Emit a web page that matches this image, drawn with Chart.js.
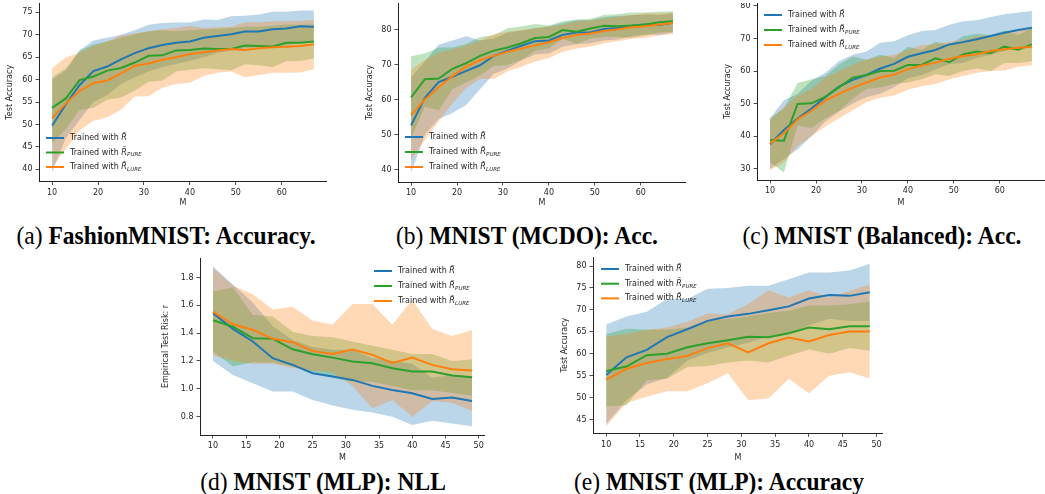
<!DOCTYPE html>
<html>
<head>
<meta charset="utf-8">
<script src="https://cdn.jsdelivr.net/npm/chart.js@4.4.1/dist/chart.umd.min.js"></script>
<style>
  body { margin: 0; background: #fff; width: 1045px; height: 494px; position: relative; overflow: hidden; }
  canvas { position: absolute; }
  .cap { position: absolute; font-family: "Liberation Serif", "Times New Roman", serif; font-size: 25px;
         line-height: 1; white-space: nowrap; color: #000; transform: translateX(-50%) scaleX(0.94); }
</style>
</head>
<body>
<div class="cap" style="left:166px;top:223px">(a) <b>FashionMNIST: Accuracy.</b></div>
<div class="cap" style="left:527px;top:223px">(b) <b>MNIST (MCDO): Acc.</b></div>
<div class="cap" style="left:882px;top:223px">(c) <b>MNIST (Balanced): Acc.</b></div>
<div class="cap" style="left:323px;top:469px">(d) <b>MNIST (MLP): NLL</b></div>
<div class="cap" style="left:719px;top:469px">(e) <b>MNIST (MLP): Accuracy</b></div>
<script>
// x values (M)
const mLong = [10, 13, 16, 19, 22, 25, 28, 31, 34, 37, 40, 43, 46, 49, 52, 55, 58, 61, 64, 67];
const mShort = [10, 13, 16, 19, 22, 25, 28, 31, 34, 37, 40, 43, 46, 49];

// tick labels
const xTicksLong = [10, 20, 30, 40, 50, 60];
const xTicksShort = [10, 15, 20, 25, 30, 35, 40, 45, 50];
const yTicksA = [40, 45, 50, 55, 60, 65, 70, 75];
const yTicksB = [40, 50, 60, 70, 80];
const yTicksC = [30, 40, 50, 60, 70, 80];
const yTicksD = [0.8, 1.0, 1.2, 1.4, 1.6, 1.8];
const yTicksE = [45, 50, 55, 60, 65, 70, 75, 80];

// (a) FashionMNIST accuracy
const aBlue     = [49.7, 54.5, 58.8, 61.9, 62.9, 64.5, 65.9, 67.0, 67.7, 68.2, 68.5, 69.3, 69.7, 70.1, 70.7, 70.7, 71.2, 71.4, 71.9, 71.8];
const aBlueLo   = [39.3, 47, 51, 55, 56.5, 59, 60.5, 61.8, 62.8, 63.5, 64.2, 65, 66, 66.5, 67, 67.2, 67.4, 67.6, 68.2, 68.4];
const aBlueHi   = [60, 62, 66.5, 68.7, 69.3, 70, 71, 72.2, 72.6, 72.7, 72.7, 73.4, 73.3, 74.1, 74.2, 74.5, 75.1, 75.1, 75.4, 75.4];
const aGreen    = [53.7, 55.8, 59.9, 60.7, 62.0, 62.6, 63.8, 65.3, 65.4, 66.5, 66.6, 66.9, 66.8, 66.8, 67.6, 67.5, 67.4, 68.2, 68.2, 68.5];
const aGreenLo  = [45.8, 49, 53.2, 53.7, 55.5, 56, 57.5, 59.5, 59.8, 61.8, 62.2, 62.5, 62.3, 62.1, 63.4, 63.2, 62.8, 64.1, 64.2, 64.7];
const aGreenHi  = [60.5, 62.5, 66.5, 67.8, 68.5, 69.3, 70.1, 70.8, 71, 70.8, 71, 71.2, 71.3, 71.5, 71.8, 71.8, 72, 72.3, 72.2, 72.3];
const aOrange   = [51.4, 54.7, 57.5, 59.2, 59.8, 61.4, 63.1, 63.6, 64.4, 65.0, 65.7, 66.1, 66.5, 66.8, 66.6, 67.0, 67.2, 67.3, 67.5, 67.9];
const aOrangeLo = [40.5, 44.5, 48.7, 50.8, 51.6, 53.3, 56.2, 56.3, 58.2, 59, 59.3, 60.8, 61.5, 61.8, 60.5, 61, 61.5, 61.5, 61.6, 62.3];
const aOrangeHi = [62.5, 65, 66, 67.5, 68.5, 69.8, 70.3, 70.8, 71.2, 71.5, 72, 71.5, 71.7, 71.8, 72.8, 72.8, 73, 73, 73.1, 73.3];

// (b) MNIST (MCDO)
const bBlue     = [52.7, 60.6, 65.1, 66.6, 68.3, 69.9, 72.6, 74.1, 75.5, 76.8, 77.0, 78.6, 79.3, 79.3, 80.3, 80.6, 81.2, 81.6, 81.4, 82.1];
const bBlueLo   = [39.2, 50, 54.5, 56.2, 58.5, 63, 67.5, 69, 71.3, 73, 73.3, 75.2, 75.9, 76.2, 77, 77.3, 78.2, 78.8, 78.6, 79.3];
const bBlueHi   = [66.5, 71, 75.8, 77, 78.2, 77, 77.5, 79.2, 79.8, 80.5, 81, 82, 82.8, 82.8, 83.7, 84, 84.2, 84.4, 84.3, 84.8];
const bGreen    = [60.7, 65.9, 66.1, 68.9, 70.5, 72.6, 74.1, 75.0, 76.2, 77.7, 78.0, 80.0, 79.5, 80.4, 81.2, 81.1, 81.3, 81.6, 82.2, 82.5];
const bGreenLo  = [49, 58, 57, 63, 65, 67, 69.7, 70, 71.5, 74, 74.8, 77.5, 76, 77.6, 78, 78, 77.8, 78.4, 79.3, 79.5];
const bGreenHi  = [72.5, 73.3, 75, 75, 76, 78, 78.5, 80.5, 81, 81.7, 81.3, 82.5, 83, 83.2, 84.3, 84.5, 85, 85, 85.2, 85.4];
const bOrange   = [55.7, 60.1, 63.6, 66.8, 69.5, 71.4, 72.6, 73.8, 74.7, 75.6, 76.5, 77.7, 78.6, 79.0, 79.7, 80.2, 80.8, 81.1, 81.6, 82.0];
const bOrangeLo = [42.8, 48.5, 53.8, 59, 63.5, 66, 66, 68.2, 69.5, 71, 72, 73.8, 74.7, 75.2, 76.2, 76.8, 77.5, 77.8, 78.5, 78.8];
const bOrangeHi = [68.5, 71.5, 73.5, 74.5, 75.5, 77, 78.8, 79.5, 80, 80.5, 81, 81.5, 82.5, 82.8, 83.2, 83.8, 84.3, 84.8, 84.7, 85];

// (c) MNIST (Balanced)
const cBlue     = [37.5, 41.9, 45.4, 48.5, 52.0, 55.2, 57.3, 58.8, 60.8, 62.2, 64.4, 65.5, 66.5, 68.2, 68.9, 69.8, 70.8, 71.8, 72.6, 73.3];
const cBlueLo   = [30, 33, 36, 40, 44.5, 47.5, 50, 52, 53, 55, 57.8, 58.8, 60.5, 62.2, 62.5, 64, 65, 66.2, 67.2, 68];
const cBlueHi   = [45.5, 51, 53, 57, 59.5, 63, 65, 66, 68.7, 69.2, 71, 72.3, 72.6, 74.2, 75.3, 75.6, 76.6, 77.5, 78, 78.5];
const cGreen    = [38.8, 38.6, 49.9, 50.1, 52.1, 55.0, 58.0, 58.8, 60.0, 60.1, 61.9, 61.9, 63.9, 62.7, 65.1, 66.0, 65.5, 67.5, 66.6, 68.2];
const cGreenLo  = [32, 28.8, 43.3, 42.5, 45.5, 47.8, 51.5, 54.5, 55, 56, 56.5, 57.5, 59, 58.5, 60, 60.8, 60, 62.5, 62.5, 63];
const cGreenHi  = [45.5, 48.5, 56.3, 57.5, 58.5, 62, 64.5, 63.5, 65, 64, 67.5, 66.5, 69, 68, 70.7, 71.5, 71, 72.5, 71, 73.3];
const cOrange   = [37.8, 40.9, 45.2, 47.8, 50.9, 53.0, 54.9, 56.5, 58.1, 58.9, 60.6, 61.7, 62.6, 63.7, 64.6, 65.2, 66.2, 66.7, 67.2, 67.5];
const cOrangeLo = [29.5, 32, 37, 40, 43, 45.5, 48, 50.5, 51.8, 52.5, 54.3, 55.3, 56, 57.5, 58.5, 59.5, 60, 60.2, 61.3, 61.8];
const cOrangeHi = [45, 49, 52.5, 54.5, 58, 60, 62, 63.5, 64.5, 65, 66.5, 68, 68.3, 69, 69.5, 70.7, 71, 72, 72.5, 73];

// (d) MNIST (MLP) NLL
const dBlue     = [1.543, 1.431, 1.340, 1.220, 1.172, 1.112, 1.088, 1.064, 1.021, 0.992, 0.968, 0.927, 0.937, 0.913];
const dBlueLo   = [1.20, 1.10, 1.04, 0.98, 0.98, 0.92, 0.88, 0.85, 0.83, 0.80, 0.74, 0.77, 0.75, 0.73];
const dBlueHi   = [1.88, 1.75, 1.62, 1.45, 1.35, 1.30, 1.28, 1.28, 1.22, 1.20, 1.18, 1.08, 1.10, 1.09];
const dGreen    = [1.493, 1.447, 1.364, 1.359, 1.284, 1.248, 1.224, 1.196, 1.184, 1.148, 1.124, 1.124, 1.095, 1.083];
const dGreenLo  = [1.27, 1.16, 1.19, 1.19, 1.16, 1.12, 1.08, 1.05, 1.05, 1.02, 0.99, 0.99, 0.97, 0.95];
const dGreenHi  = [1.70, 1.73, 1.53, 1.52, 1.41, 1.38, 1.37, 1.34, 1.31, 1.28, 1.25, 1.25, 1.20, 1.21];
const dOrange   = [1.555, 1.464, 1.424, 1.359, 1.335, 1.272, 1.251, 1.282, 1.244, 1.186, 1.224, 1.172, 1.141, 1.131];
const dOrangeLo = [1.24, 1.20, 1.18, 1.18, 1.15, 1.13, 1.12, 1.02, 0.86, 0.92, 0.80, 0.91, 0.90, 0.84];
const dOrangeHi = [1.87, 1.74, 1.68, 1.57, 1.59, 1.49, 1.46, 1.61, 1.61, 1.46, 1.64, 1.43, 1.38, 1.42];

// (e) MNIST (MLP) accuracy
const eBlue     = [55.2, 59.2, 60.9, 63.8, 65.6, 67.5, 68.5, 69.1, 69.9, 70.8, 72.6, 73.4, 73.2, 74.0];
const eBlueLo   = [44, 49.5, 53, 54.5, 58.5, 60.2, 61.5, 62.5, 64, 64.5, 66.5, 68, 67.5, 67.5];
const eBlueHi   = [66.7, 68.5, 69.6, 72.5, 72.5, 74.8, 75, 75.5, 75.5, 77, 78.5, 78.5, 79, 80.5];
const eGreen    = [56.1, 57.1, 59.7, 60.0, 61.5, 62.4, 63.1, 63.9, 63.8, 64.7, 66.0, 65.6, 66.3, 66.3];
const eGreenLo  = [48, 48.3, 54, 54.3, 57, 57.2, 58, 58.5, 58, 59.6, 61, 60, 61.3, 60.7];
const eGreenHi  = [64.5, 65.7, 65.5, 65.5, 66, 67.5, 68, 68.5, 69.3, 69.8, 71, 71, 71.3, 72];
const eOrange   = [54.1, 56.6, 57.9, 58.8, 59.5, 61.3, 62.4, 60.3, 62.4, 63.7, 62.8, 64.3, 65.1, 65.1];
const eOrangeLo = [43.5, 48.8, 50.2, 51.5, 51.5, 53.3, 55.6, 49.5, 49.8, 54.3, 51, 55, 55.8, 54.4];
const eOrangeHi = [64, 64.5, 65.5, 66, 67.3, 69.2, 69, 71.3, 74.5, 72.8, 74.5, 72.8, 74.3, 75.8];

const BLUE = '#1f77b4', GREEN = '#2ca02c', ORANGE = '#ff7f0e';
const BLUE_F = 'rgba(31,119,180,0.3)', GREEN_F = 'rgba(44,160,44,0.3)', ORANGE_F = 'rgba(255,127,14,0.3)';
const INK = '#262626';
const FONT = { family: 'DejaVu Sans', size: 8 };

// legend with the tilde R and subscripts, drawn on the canvas
const texLegend = {
  id: 'texLegend',
  afterDraw(chart, args, o) {
    if (!o.items) return;
    const ctx = chart.ctx;
    ctx.save();
    o.items.forEach((it, i) => {
      const y = o.y + i * o.dy;
      ctx.strokeStyle = it.color;
      ctx.lineWidth = 2;
      ctx.beginPath();
      ctx.moveTo(o.x, y);
      ctx.lineTo(o.x + 18, y);
      ctx.stroke();
      ctx.fillStyle = INK;
      ctx.textBaseline = 'middle';
      ctx.font = '8px "DejaVu Sans"';
      let tx = o.x + 24;
      ctx.fillText('Trained with ', tx, y);
      tx += ctx.measureText('Trained with ').width;
      ctx.font = 'italic 8px "DejaVu Sans"';
      ctx.fillText('R\u0303', tx, y);
      tx += ctx.measureText('R').width;
      if (it.sub) {
        ctx.font = 'italic 5.5px "DejaVu Sans"';
        ctx.fillText(it.sub, tx + 0.3, y + 2.5);
      }
    });
    ctx.restore();
  }
};

const pts = (xs, ys) => xs.map((x, i) => ({ x: x, y: ys[i] }));

function panel(p) {
  const left = Math.round(p.titleX - 5);
  const top = Math.round(p.plotTop);
  const w = Math.round(p.plotRight - left);
  const h = Math.round(p.mY + 4.8 - top);
  const yW = p.plotLeft - left;
  const xH = h - (p.plotBottom - top);

  const cv = document.createElement('canvas');
  cv.width = w; cv.height = h;
  cv.style.left = left + 'px';
  cv.style.top = top + 'px';
  document.body.appendChild(cv);

  const line = (d, c) => ({ data: pts(p.m, d), borderColor: c, borderWidth: 2, pointRadius: 0, fill: false, tension: 0 });
  const band = (d, c, f) => ({ data: pts(p.m, d), borderColor: 'transparent', borderWidth: 0, backgroundColor: c, pointRadius: 0, fill: f, tension: 0 });

  const axis = {
    grid: { drawOnChartArea: false, color: '#222', tickLength: 3.5, lineWidth: 0.8 },
    border: { color: '#222', width: 1 },
    ticks: { color: INK, font: FONT, padding: 3, autoSkip: false, maxRotation: 0 }
  };

  new Chart(cv, {
    type: 'line',
    data: {
      datasets: [
        line(p.orange, ORANGE),
        line(p.green, GREEN),
        line(p.blue, BLUE),
        band(p.orangeHi, ORANGE_F, '+1'),
        band(p.orangeLo, ORANGE_F, false),
        band(p.greenHi, GREEN_F, '+1'),
        band(p.greenLo, GREEN_F, false),
        band(p.blueHi, BLUE_F, '+1'),
        band(p.blueLo, BLUE_F, false)
      ]
    },
    options: {
      responsive: false,
      animation: false,
      devicePixelRatio: 1,
      layout: { padding: 0 },
      plugins: {
        legend: { display: false },
        tooltip: { enabled: false },
        filler: { drawTime: 'beforeDatasetsDraw' },
        texLegend: {
          x: p.legX - left, y: p.legY - top, dy: p.legDy,
          items: [
            { color: BLUE, sub: '' },
            { color: GREEN, sub: 'PURE' },
            { color: ORANGE, sub: 'LURE' }
          ]
        }
      },
      scales: {
        x: Object.assign({}, axis, {
          type: 'linear', min: p.xMin, max: p.xMax,
          afterBuildTicks: s => { s.ticks = p.xTicks.map(v => ({ value: v })); },
          afterFit: s => { s.height = xH; s.paddingLeft = 0; s.paddingRight = 0; },
          title: { display: true, text: 'M', color: INK, font: FONT, padding: 0 }
        }),
        y: Object.assign({}, axis, {
          type: 'linear', min: p.yMin, max: p.yMax,
          afterBuildTicks: s => { s.ticks = p.yTicks.map(v => ({ value: v })); },
          afterFit: s => { s.width = yW; s.paddingTop = 0; s.paddingBottom = 0; },
          ticks: Object.assign({}, axis.ticks, { callback: p.fmt || (v => v) }),
          title: { display: true, text: p.yTitle, color: INK, font: FONT, padding: 0 }
        })
      }
    },
    plugins: [texLegend]
  });
}

panel({
  m: mLong, xMin: 7.15, xMax: 69.85, xTicks: xTicksLong,
  yMin: 37.28, yMax: 77.07, yTicks: yTicksA, yTitle: 'Test Accuracy',
  titleX: 10, plotLeft: 39, plotRight: 327, plotTop: 3, plotBottom: 181.5, mY: 203,
  legX: 46, legY: 138, legDy: 14.5,
  blue: aBlue, blueLo: aBlueLo, blueHi: aBlueHi,
  green: aGreen, greenLo: aGreenLo, greenHi: aGreenHi,
  orange: aOrange, orangeLo: aOrangeLo, orangeHi: aOrangeHi
});

panel({
  m: mLong, xMin: 7.15, xMax: 69.85, xTicks: xTicksLong,
  yMin: 36.48, yMax: 87.73, yTicks: yTicksB, yTitle: 'Test Accuracy',
  titleX: 370, plotLeft: 398, plotRight: 686, plotTop: 3, plotBottom: 182, mY: 203,
  legX: 405, legY: 137, legDy: 15,
  blue: bBlue, blueLo: bBlueLo, blueHi: bBlueHi,
  green: bGreen, greenLo: bGreenLo, greenHi: bGreenHi,
  orange: bOrange, orangeLo: bOrangeLo, orangeHi: bOrangeHi
});

panel({
  m: mLong, xMin: 7.15, xMax: 69.85, xTicks: xTicksLong,
  yMin: 26.53, yMax: 80.92, yTicks: yTicksC, yTitle: 'Test Accuracy',
  titleX: 728, plotLeft: 757, plotRight: 1045, plotTop: 3, plotBottom: 180, mY: 203,
  legX: 764, legY: 15, legDy: 15,
  blue: cBlue, blueLo: cBlueLo, blueHi: cBlueHi,
  green: cGreen, greenLo: cGreenLo, greenHi: cGreenHi,
  orange: cOrange, orangeLo: cOrangeLo, orangeHi: cOrangeHi
});

panel({
  m: mShort, xMin: 8.05, xMax: 50.95, xTicks: xTicksShort,
  yMin: 0.668, yMax: 1.94, yTicks: yTicksD, yTitle: 'Empirical Test Risk: r',
  fmt: v => v.toFixed(1),
  titleX: 166, plotLeft: 200, plotRight: 485, plotTop: 258, plotBottom: 435, mY: 458,
  legX: 374, legY: 271, legDy: 15,
  blue: dBlue, blueLo: dBlueLo, blueHi: dBlueHi,
  green: dGreen, greenLo: dGreenLo, greenHi: dGreenHi,
  orange: dOrange, orangeLo: dOrangeLo, orangeHi: dOrangeHi
});

panel({
  m: mShort, xMin: 8.05, xMax: 50.95, xTicks: xTicksShort,
  yMin: 41.9, yMax: 82.05, yTicks: yTicksE, yTitle: 'Test Accuracy',
  titleX: 565, plotLeft: 593, plotRight: 883, plotTop: 257, plotBottom: 433.3, mY: 458,
  legX: 601, legY: 269, legDy: 14.7,
  blue: eBlue, blueLo: eBlueLo, blueHi: eBlueHi,
  green: eGreen, greenLo: eGreenLo, greenHi: eGreenHi,
  orange: eOrange, orangeLo: eOrangeLo, orangeHi: eOrangeHi
});
</script>
</body>
</html>
